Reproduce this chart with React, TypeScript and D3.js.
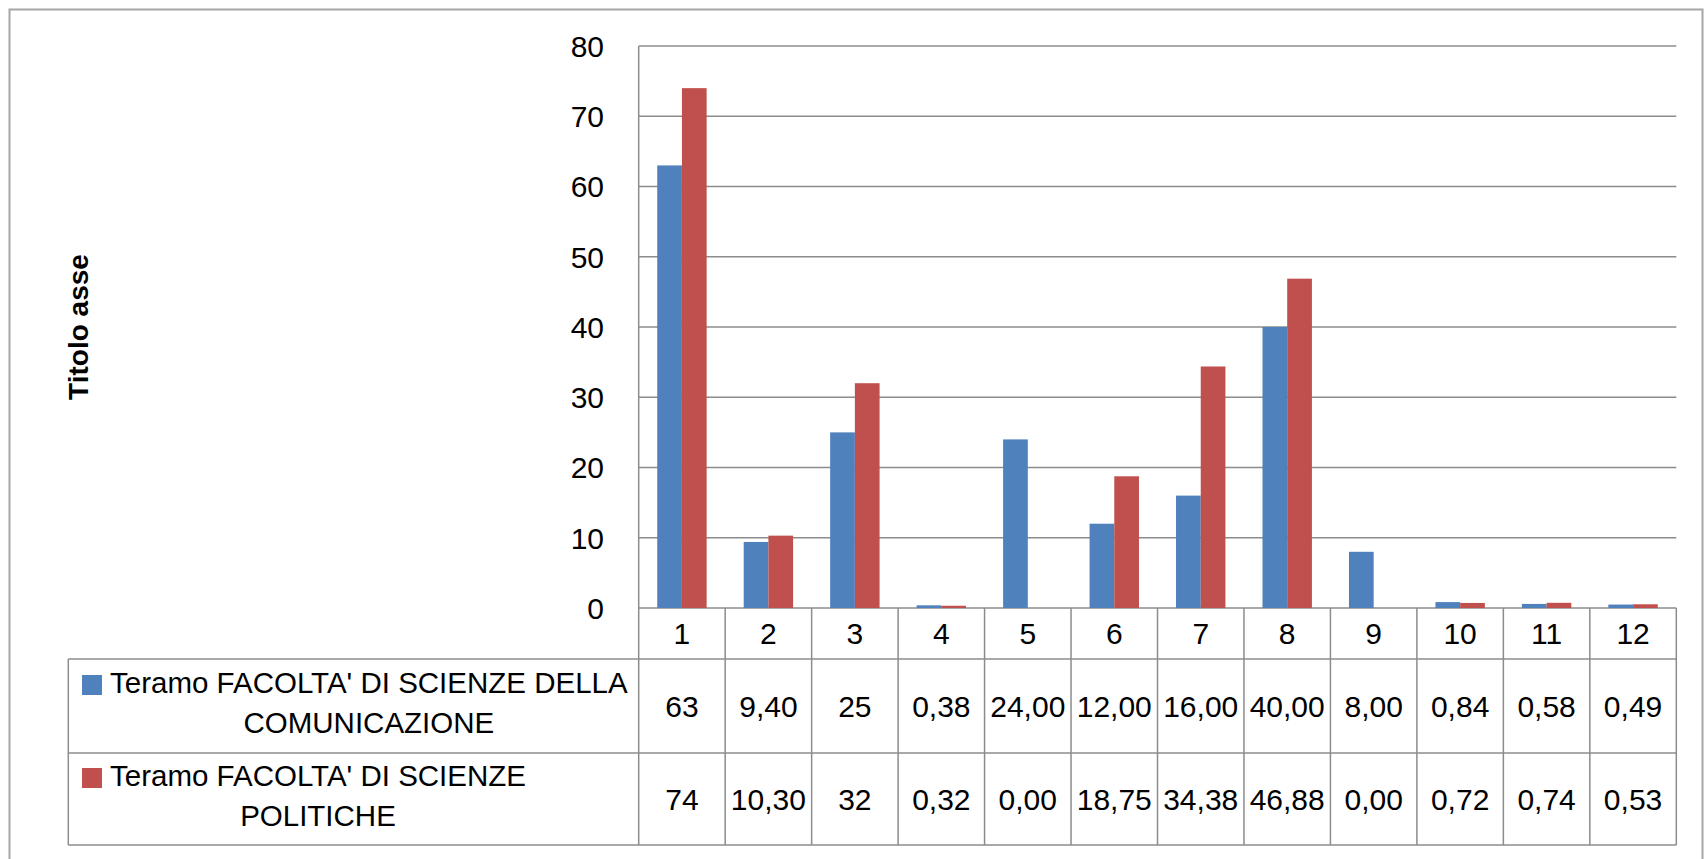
import React, { useEffect, useRef } from 'react';
import * as d3 from 'd3';

// categories on the x axis
const categories = ['1', '2', '3', '4', '5', '6', '7', '8', '9', '10', '11', '12'];

// series names, split in the lines shown in the data table
const seriesNames = [
  ["Teramo FACOLTA' DI SCIENZE DELLA", 'COMUNICAZIONE'],
  ["Teramo FACOLTA' DI SCIENZE", 'POLITICHE'],
];

// values as printed in the data table
const comunicazioneLabels = ['63', '9,40', '25', '0,38', '24,00', '12,00', '16,00', '40,00', '8,00', '0,84', '0,58', '0,49'];
const politicheLabels = ['74', '10,30', '32', '0,32', '0,00', '18,75', '34,38', '46,88', '0,00', '0,72', '0,74', '0,53'];

const yTicks = [0, 10, 20, 30, 40, 50, 60, 70, 80];
const axisTitle = 'Titolo asse';

const colors = ['#4F81BD', '#C0504D'];

const toNumber = (s: string) => +s.replace(',', '.');

const App = () => {
  const chartRef = useRef<SVGSVGElement>(null);

  useEffect(() => {
    if (!chartRef.current) return;
    const svg = d3.select(chartRef.current);
    svg.selectAll('*').remove();

    const width = 1704;
    const height = 859;
    const font = '"Liberation Sans", Arial, sans-serif';
    const fontSize = 30;
    const legendSize = 29.5;
    const lineColor = '#8c8c8c';

    const plot = { left: 638.7, right: 1676.3, top: 46, bottom: 608 };
    const table = { left: 68.3, header: 659, row1: 753, row2: 845 };
    const rowBounds = [
      [table.header, table.row1],
      [table.row1, table.row2],
    ];

    const labels = [comunicazioneLabels, politicheLabels];
    const values = labels.map((l) => l.map(toNumber));

    // outer frame
    svg
      .append('rect')
      .attr('x', 9.5)
      .attr('y', 9.5)
      .attr('width', width - 11)
      .attr('height', height)
      .attr('fill', '#fff')
      .attr('stroke', '#a6a6a6')
      .attr('stroke-width', 2);

    const x = d3
      .scaleBand<string>()
      .domain(categories)
      .range([plot.left, plot.right])
      .paddingInner(0)
      .paddingOuter(0);

    const xSeries = d3
      .scaleBand<number>()
      .domain([0, 1])
      .range([0, x.bandwidth()])
      .paddingInner(0)
      .paddingOuter(0.75);

    const y = d3.scaleLinear().domain([0, 80]).range([plot.bottom, plot.top]);

    // gridlines
    svg
      .append('g')
      .selectAll('line')
      .data(yTicks)
      .join('line')
      .attr('x1', plot.left)
      .attr('x2', plot.right)
      .attr('y1', (d) => y(d))
      .attr('y2', (d) => y(d))
      .attr('stroke', lineColor)
      .attr('stroke-width', 1.5);

    // y tick labels
    svg
      .append('g')
      .selectAll('text')
      .data(yTicks)
      .join('text')
      .attr('x', 604)
      .attr('y', (d) => y(d))
      .attr('dy', '0.36em')
      .attr('text-anchor', 'end')
      .attr('font-family', font)
      .attr('font-size', fontSize)
      .attr('fill', '#000')
      .text((d) => d);

    // axis title
    svg
      .append('text')
      .attr('transform', 'translate(88,327) rotate(-90)')
      .attr('text-anchor', 'middle')
      .attr('font-family', font)
      .attr('font-size', 28)
      .attr('font-weight', 'bold')
      .attr('fill', '#000')
      .text(axisTitle);

    // bars
    values.forEach((series, si) => {
      svg
        .append('g')
        .selectAll('rect')
        .data(series)
        .join('rect')
        .attr('x', (_, i) => (x(categories[i]) as number) + (xSeries(si) as number))
        .attr('width', xSeries.bandwidth())
        .attr('y', (d) => y(d))
        .attr('height', (d) => y(0) - y(d))
        .attr('fill', colors[si]);
    });

    // table lines
    const grid = svg.append('g').attr('stroke', lineColor).attr('stroke-width', 1.5);
    // y axis + left border of the value columns
    grid
      .append('line')
      .attr('x1', plot.left)
      .attr('x2', plot.left)
      .attr('y1', plot.top)
      .attr('y2', table.row2);
    // column separators
    categories.forEach((c) => {
      const cx = (x(c) as number) + x.bandwidth();
      grid
        .append('line')
        .attr('x1', cx)
        .attr('x2', cx)
        .attr('y1', plot.bottom)
        .attr('y2', table.row2);
    });
    // horizontal rules
    [table.header, table.row1, table.row2].forEach((ry) => {
      grid
        .append('line')
        .attr('x1', table.left)
        .attr('x2', plot.right)
        .attr('y1', ry)
        .attr('y2', ry);
    });
    grid
      .append('line')
      .attr('x1', table.left)
      .attr('x2', table.left)
      .attr('y1', table.header)
      .attr('y2', table.row2);

    // category labels
    svg
      .append('g')
      .selectAll('text')
      .data(categories)
      .join('text')
      .attr('x', (d) => (x(d) as number) + x.bandwidth() / 2)
      .attr('y', (plot.bottom + table.header) / 2)
      .attr('dy', '0.36em')
      .attr('text-anchor', 'middle')
      .attr('font-family', font)
      .attr('font-size', fontSize)
      .attr('fill', '#000')
      .text((d) => d);

    // value cells
    labels.forEach((row, ri) => {
      const mid = (rowBounds[ri][0] + rowBounds[ri][1]) / 2;
      svg
        .append('g')
        .selectAll('text')
        .data(row)
        .join('text')
        .attr('x', (_, i) => (x(categories[i]) as number) + x.bandwidth() / 2)
        .attr('y', mid)
        .attr('dy', '0.36em')
        .attr('text-anchor', 'middle')
        .attr('font-family', font)
        .attr('font-size', fontSize)
        .attr('fill', '#000')
        .text((d) => d);
    });

    // legend cells: swatch + wrapped, centred lines
    seriesNames.forEach((lines, ri) => {
      const mid = (rowBounds[ri][0] + rowBounds[ri][1]) / 2;
      const textLeft = 110;
      const g = svg.append('g');
      const texts = g
        .selectAll('text')
        .data(lines)
        .join('text')
        .attr('y', (_, i) => mid - 13 + i * 40)
        .attr('text-anchor', 'middle')
        .attr('font-family', font)
        .attr('font-size', legendSize)
        .attr('fill', '#000')
        .text((d) => d);
      let maxW = 0;
      texts.each(function () {
        maxW = Math.max(maxW, (this as SVGTextElement).getComputedTextLength());
      });
      texts.attr('x', textLeft + maxW / 2);
      g.append('rect')
        .attr('x', 82)
        .attr('y', mid - 31)
        .attr('width', 20)
        .attr('height', 20)
        .attr('fill', colors[ri]);
    });
  }, []);

  return (
    <svg
      ref={chartRef}
      width={1704}
      height={859}
      style={{ position: 'absolute', left: 0, top: 0, background: '#fff' }}
    />
  );
};

export default App;
